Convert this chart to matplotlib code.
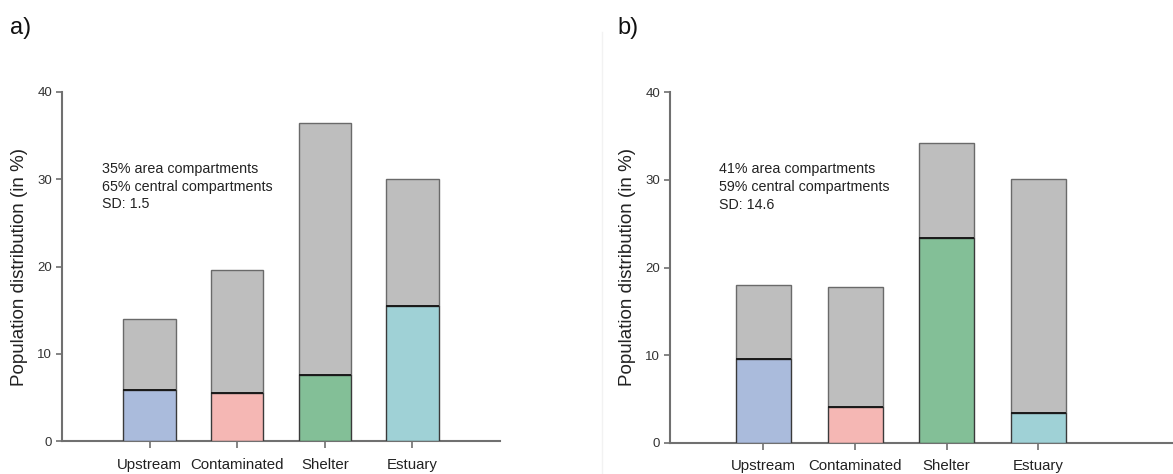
import matplotlib
matplotlib.use("Agg")
import matplotlib.pyplot as plt
from matplotlib.lines import Line2D

plt.rcParams['font.family'] = ['Liberation Sans', 'DejaVu Sans']

categories = ["Upstream", "Contaminated", "Shelter", "Estuary"]
colors = ["#aabbdc", "#f5b7b4", "#83bf97", "#9fd1d6"]
gray = "#bebebe"

# panel a
a_central = [5.8, 5.5, 7.6, 15.5]
a_total = [14.0, 19.6, 36.4, 30.0]
a_text = ["35% area compartments", "65% central compartments", "SD: 1.5"]
# panel b
b_central = [9.6, 4.1, 23.4, 3.4]
b_total = [18.0, 17.8, 34.2, 30.1]
b_text = ["41% area compartments", "59% central compartments", "SD: 14.6"]

W, H = 1173, 474
fig = plt.figure(figsize=(W / 100, H / 100), dpi=100)

def make_ax(left, right, bottom_px, top_px, xlim, central, total, text, tx):
    ax = fig.add_axes([left / W, (H - bottom_px) / H, (right - left) / W, (bottom_px - top_px) / H])
    x = list(range(len(categories)))
    upper = [t - c for t, c in zip(total, central)]
    ax.bar(x, upper, bottom=central, width=0.6, color=gray, edgecolor="#6a6a6a", linewidth=1.0, zorder=2)
    ax.bar(x, central, width=0.6, color=colors, edgecolor="#3a3a3a", linewidth=1.0, zorder=3)
    for xi, c in zip(x, central):
        ax.plot([xi - 0.3, xi + 0.3], [c, c], color="#1a1a1a", lw=1.4, zorder=4, solid_capstyle='butt')
    ax.set_xlim(*xlim)
    ax.set_ylim(0, 40)
    ax.set_yticks([0, 10, 20, 30, 40])
    ax.set_xticks(x)
    ax.set_xticklabels(categories, fontsize=10.8, color="#222222")
    ax.tick_params(axis='y', direction='out', length=4, width=1.2, color="#707070", labelsize=9.5, labelcolor="#333333", pad=3)
    ax.tick_params(axis='x', direction='out', length=5, width=1.2, color="#707070", pad=7)
    for s in ["top", "right"]:
        ax.spines[s].set_visible(False)
    for s in ["left", "bottom"]:
        ax.spines[s].set_color("#707070")
        ax.spines[s].set_linewidth(1.5)
    ax.set_ylabel("Population distribution (in %)", fontsize=13.5, color="#222222", labelpad=7)
    ax.text(tx, 32.0, "\n".join(text), fontsize=10.3, va='top', ha='left', color="#222222", linespacing=1.35)
    return ax

ax1 = make_ax(62, 500, 441, 92, (-1, 4), a_central, a_total, a_text, -0.54)
ax2 = make_ax(670, 1173, 442.7, 92.3, (-1.02, 4.47), b_central, b_total, b_text, -0.485)

fig.text(10 / W, 1 - 28 / H, "a)", fontsize=17, va='center', ha='left', color="#111111")
fig.text(617 / W, 1 - 28 / H, "b)", fontsize=17, va='center', ha='left', color="#111111")
fig.add_artist(Line2D([602 / W, 602 / W], [0, 1 - 32 / H], transform=fig.transFigure, color="#f2f2f2", lw=1))

fig.savefig("out.png", dpi=100)
